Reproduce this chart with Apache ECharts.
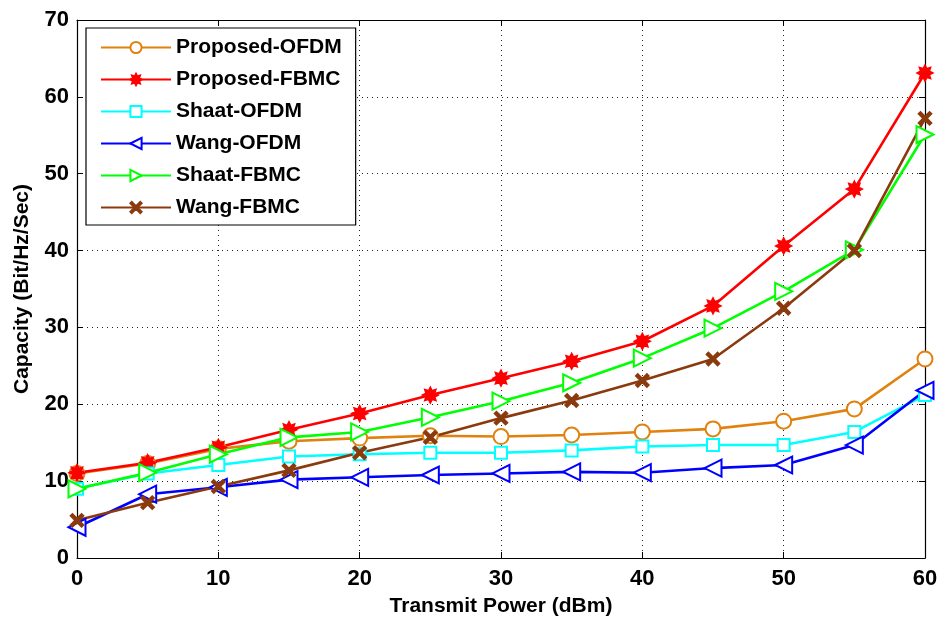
<!DOCTYPE html>
<html>
<head>
<meta charset="utf-8">
<script src="https://cdn.jsdelivr.net/npm/echarts@6/dist/echarts.min.js"></script>
<style>html,body{margin:0;padding:0;background:#fff}#c{width:941px;height:618px}</style>
</head>
<body>
<div id="c"></div>
<script>
const powerDbm = [0, 5, 10, 15, 20, 25, 30, 35, 40, 45, 50, 55, 60];
const proposedOFDM = [11.0, 12.3, 14.2, 15.2, 15.6, 15.9, 15.8, 16.0, 16.4, 16.8, 17.8, 19.4, 25.9];
const proposedFBMC = [11.1, 12.4, 14.4, 16.7, 18.8, 21.2, 23.4, 25.6, 28.2, 32.8, 40.6, 48.0, 63.1];
const shaatOFDM = [9.0, 11.0, 12.1, 13.2, 13.5, 13.7, 13.7, 14.0, 14.5, 14.7, 14.7, 16.4, 21.2];
const wangOFDM = [4.0, 8.3, 9.2, 10.2, 10.5, 10.8, 11.0, 11.2, 11.1, 11.7, 12.1, 14.7, 21.8];
const shaatFBMC = [9.0, 11.1, 13.5, 15.7, 16.4, 18.3, 20.4, 22.8, 26.0, 29.9, 34.7, 40.1, 55.1];
const wangFBMC = [4.9, 7.2, 9.3, 11.4, 13.7, 15.7, 18.2, 20.5, 23.1, 25.9, 32.5, 40.0, 57.2];
const yTicks = [0, 10, 20, 30, 40, 50, 60, 70];
const xTicks = [0, 10, 20, 30, 40, 50, 60];

const FONT = '"Liberation Sans", Arial, sans-serif';
const STAR = 'path://M20 10 L15.54 12.30 L17.07 17.07 L12.30 15.54 L10 20 L7.70 15.54 L2.93 17.07 L4.46 12.30 L0 10 L4.46 7.70 L2.93 2.93 L7.70 4.46 L10 0 L12.30 4.46 L17.07 2.93 L15.54 7.70 Z';
const XMARK = 'path://M0 1.2 L1.2 0 L5 3.8 L8.8 0 L10 1.2 L6.2 5 L10 8.8 L8.8 10 L5 6.2 L1.2 10 L0 8.8 L3.8 5 Z';

function pairs(arr){ return powerDbm.map((x,i)=>[x, arr[i]]); }
function mk(name, data, color, symbol, size, rot){
  return {
    name, type:'line', data: pairs(data), color,
    symbol, symbolSize: size, symbolRotate: rot || 0,
    lineStyle:{width:2.6, color},
    itemStyle:{color, borderColor: color, borderWidth: 2.4},
    emphasis:{disabled:true}, z: 3
  };
}

const chart = echarts.init(document.getElementById('c'), null, {renderer:'canvas'});
const axisCommonX = {
  type:'value', min:0, max:60, interval:10,
  axisLine:{show:true, onZero:false, lineStyle:{color:'#000', width:1.2}},
  axisTick:{show:true, inside:true, length:6, lineStyle:{color:'#000'}},
};
const axisCommonY = {
  type:'value', min:0, max:70, interval:10,
  axisLine:{show:true, onZero:false, lineStyle:{color:'#000', width:1.2}},
  axisTick:{show:true, inside:true, length:6, lineStyle:{color:'#000'}},
};
chart.setOption({
  animation:false,
  backgroundColor:'#fff',
  textStyle:{fontFamily: FONT},
  grid:{left:77, right:16, top:20, bottom:60, containLabel:false, outerBoundsMode:'none'},
  legend:{
    left:86, top:28, orient:'vertical',
    backgroundColor:'#fff', borderColor:'#000', borderWidth:1.2,
    padding:[9, 14, 7, 14],
    itemWidth:70, itemHeight:14, itemGap:11,
    textStyle:{fontFamily:FONT, fontWeight:'bold', fontSize:21, color:'#000'},
    data:['Proposed-OFDM','Proposed-FBMC','Shaat-OFDM','Wang-OFDM','Shaat-FBMC','Wang-FBMC']
  },
  xAxis:[
    Object.assign({}, axisCommonX, {
      position:'bottom',
      name:'Transmit Power (dBm)', nameLocation:'middle', nameGap:38,
      nameTextStyle:{fontFamily:FONT, fontWeight:'bold', fontSize:21, color:'#000'},
      axisLabel:{fontFamily:FONT, fontWeight:'bold', fontSize:22, color:'#000', margin:10,
        formatter: v => xTicks.includes(v) ? String(v) : ''},
      splitLine:{show:true, lineStyle:{color:'#222', type:[1,4], width:1}}
    }),
    Object.assign({}, axisCommonX, {
      position:'top', axisLabel:{show:false}, splitLine:{show:false}
    })
  ],
  yAxis:[
    Object.assign({}, axisCommonY, {
      position:'left',
      name:'Capacity (Bit/Hz/Sec)', nameLocation:'middle', nameGap:44,
      nameTextStyle:{fontFamily:FONT, fontWeight:'bold', fontSize:21, color:'#000'},
      axisLabel:{fontFamily:FONT, fontWeight:'bold', fontSize:22, color:'#000', margin:8,
        formatter: v => yTicks.includes(v) ? String(v) : ''},
      splitLine:{show:true, lineStyle:{color:'#222', type:[1,4], width:1}}
    }),
    Object.assign({}, axisCommonY, {
      position:'right', axisLabel:{show:false}, splitLine:{show:false}
    })
  ],
  series:[
    mk('Proposed-OFDM', proposedOFDM, '#E0820F', 'emptyCircle', 15),
    mk('Proposed-FBMC', proposedFBMC, '#FF0000', STAR, 14),
    mk('Shaat-OFDM', shaatOFDM, '#00FFFF', 'emptyRect', 12),
    mk('Wang-OFDM', wangOFDM, '#0000FF', 'emptyTriangle', 17, 90),
    mk('Shaat-FBMC', shaatFBMC, '#00FF00', 'emptyTriangle', 17, -90),
    mk('Wang-FBMC', wangFBMC, '#8B3A0E', XMARK, 12)
  ]
});
</script>
</body>
</html>
